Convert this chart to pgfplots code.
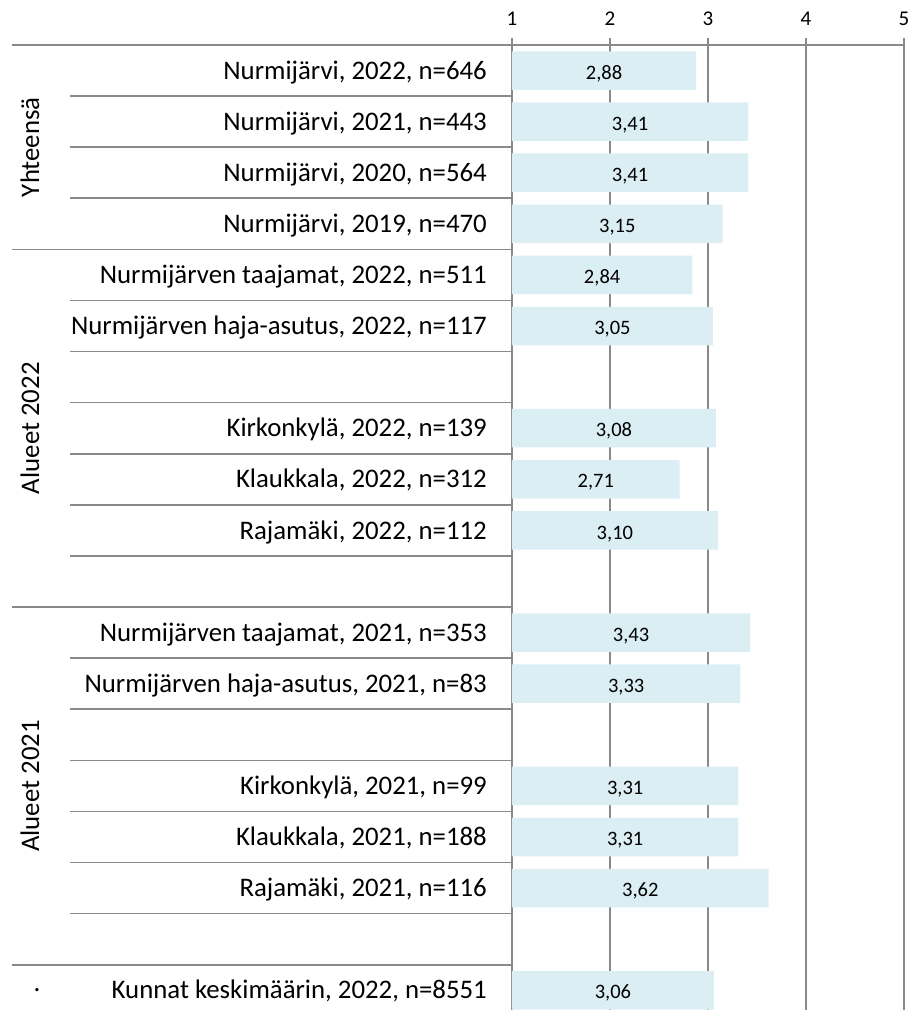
\documentclass[border=0pt]{standalone}
\usepackage{pgfplots}
\pgfplotsset{compat=1.18}
\usepackage{pgfplotstable}
\usepackage{fontspec}
\setmainfont{Carlito}
\definecolor{barblue}{RGB}{219,238,244}
\definecolor{lgray}{RGB}{137,137,137}
\newcommand\catfont{\fontsize{26.8}{31}\selectfont}
\newcommand\valfont{\fontsize{20.5}{24}\selectfont}
\newcommand\tickfont{\fontsize{21}{24}\selectfont}

\pgfplotstableread{
row val lab
0 2.88 2,88
-1 3.41 3,41
-2 3.41 3,41
-3 3.15 3,15
-4 2.84 2,84
-5 3.05 3,05
-7 3.08 3,08
-8 2.71 2,71
-9 3.10 3,10
-11 3.43 3,43
-12 3.33 3,33
-14 3.31 3,31
-15 3.31 3,31
-16 3.62 3,62
-18 3.06 3,06
}\data

\begin{document}
\begin{tikzpicture}
\begin{axis}[
  x=98pt, y=51.1pt,
  xmin=1, xmax=5, ymin=-18.385, ymax=0.5,
  axis line style={draw=none},
  xtick={1,2,3,4,5}, ytick=\empty,
  xticklabel pos=upper,
  /pgf/number format/assume math mode=true,
  xticklabel style={font=\tickfont, anchor=south, inner sep=0pt, yshift=19.5pt},
  major tick length=0pt,
  xmajorgrids, grid style={lgray, line width=1.5pt},
  clip mode=individual,
]
\addplot[xbar, bar width=38.5pt, bar shift=0pt, fill=barblue, draw=none] table[x=val, y=row] {\data};
\addplot[draw=none, mark=none, nodes near coords, point meta=explicit symbolic,
  every node near coord/.append style={font=\valfont, anchor=base, yshift=-8.6pt, inner sep=0pt}]
  table[x expr={(\thisrow{val}+1)/2}, y=row, meta=lab] {\data};

% top line and ticks
\draw[lgray, line width=1.6pt] ([xshift=-500pt]axis cs:1,0.5) -- (axis cs:5,0.5);
\pgfplotsinvokeforeach{1,2,3,4,5}{
  \draw[lgray, line width=1.5pt] ([yshift=6.5pt]axis cs:#1,0.5) -- ([yshift=-6.5pt]axis cs:#1,0.5);
}
% full-width separators
\pgfplotsinvokeforeach{-3.5,-10.5,-17.5}{
  \draw[lgray, line width=1.6pt] ([xshift=-500pt]axis cs:1,#1) -- (axis cs:1,#1);
}
% inner separators
\pgfplotsinvokeforeach{-0.5,-1.5,-2.5,-4.5,-5.5,-6.5,-7.5,-8.5,-9.5,-11.5,-12.5,-13.5,-14.5,-15.5,-16.5}{
  \draw[lgray, line width=1.6pt] ([xshift=-442pt]axis cs:1,#1) -- ([xshift=1pt]axis cs:1,#1);
}
% category labels
\begin{scope}[every node/.style={font=\catfont, anchor=base east, inner sep=0pt}]
\node at ([xshift=-25pt,yshift=-8.6pt]axis cs:1,0) {Nurmijärvi, 2022, n=646};
\node at ([xshift=-25pt,yshift=-8.6pt]axis cs:1,-1) {Nurmijärvi, 2021, n=443};
\node at ([xshift=-25pt,yshift=-8.6pt]axis cs:1,-2) {Nurmijärvi, 2020, n=564};
\node at ([xshift=-25pt,yshift=-8.6pt]axis cs:1,-3) {Nurmijärvi, 2019, n=470};
\node at ([xshift=-25pt,yshift=-8.6pt]axis cs:1,-4) {Nurmijärven taajamat, 2022, n=511};
\node at ([xshift=-25pt,yshift=-8.6pt]axis cs:1,-5) {Nurmijärven haja-asutus, 2022, n=117};
\node at ([xshift=-25pt,yshift=-8.6pt]axis cs:1,-7) {Kirkonkylä, 2022, n=139};
\node at ([xshift=-25pt,yshift=-8.6pt]axis cs:1,-8) {Klaukkala, 2022, n=312};
\node at ([xshift=-25pt,yshift=-8.6pt]axis cs:1,-9) {Rajamäki, 2022, n=112};
\node at ([xshift=-25pt,yshift=-8.6pt]axis cs:1,-11) {Nurmijärven taajamat, 2021, n=353};
\node at ([xshift=-25pt,yshift=-8.6pt]axis cs:1,-12) {Nurmijärven haja-asutus, 2021, n=83};
\node at ([xshift=-25pt,yshift=-8.6pt]axis cs:1,-14) {Kirkonkylä, 2021, n=99};
\node at ([xshift=-25pt,yshift=-8.6pt]axis cs:1,-15) {Klaukkala, 2021, n=188};
\node at ([xshift=-25pt,yshift=-8.6pt]axis cs:1,-16) {Rajamäki, 2021, n=116};
\node at ([xshift=-25pt,yshift=-8.6pt]axis cs:1,-18) {Kunnat keskimäärin, 2022, n=8551};
\end{scope}
% group labels
\begin{scope}[every node/.style={font=\catfont, rotate=90, inner sep=0pt}]
\node at ([xshift=-482pt]axis cs:1,-1.5) {Yhteensä};
\node at ([xshift=-482pt]axis cs:1,-7) {Alueet 2022};
\node at ([xshift=-482pt]axis cs:1,-14) {Alueet 2021};
\end{scope}
\node[font=\catfont, inner sep=0pt] at ([xshift=-475pt]axis cs:1,-18) {.};
\end{axis}
\pgfresetboundingbox
\path[use as bounding box] ([xshift=-512pt, yshift=45pt]current axis.north west) rectangle ([xshift=8pt]current axis.south east);
\end{tikzpicture}
\end{document}
